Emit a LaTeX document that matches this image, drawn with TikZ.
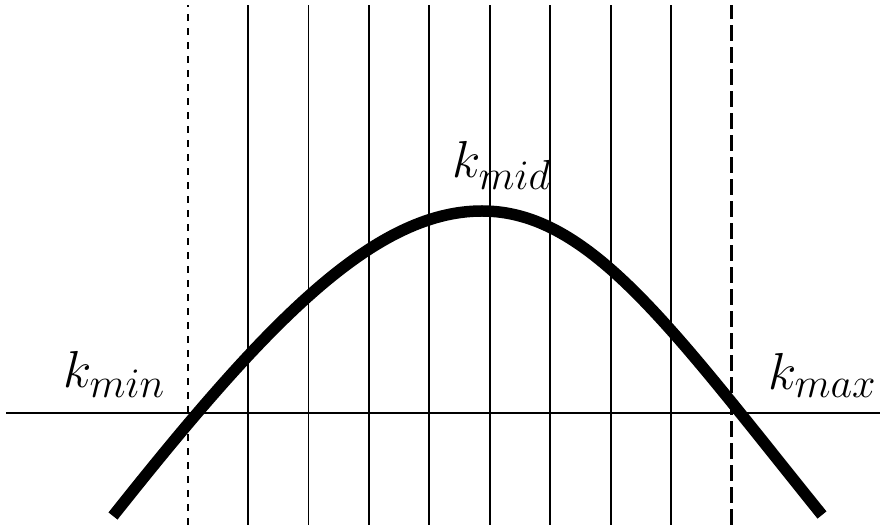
\documentclass[tikz,border=0pt]{standalone}
\usepackage{fix-cm}
\usepackage{amsmath}
\usepackage{tikz}
\usetikzlibrary{positioning}
\DeclareMathSizes{52}{52}{42}{32}
\tikzset{
  gridline/.style={line width=1.9pt, black},
  boundline/.style={line width=1.9pt, black, dash pattern=on 7pt off 7pt},
  boundlineb/.style={line width=2.1pt, black, dash pattern=on 16pt off 6pt},
  axisline/.style={line width=1.9pt, black},
  bandcurve/.style={line width=11.5pt, black},
  klabel/.style={inner sep=0pt, font=\fontsize{52}{62}\selectfont},
}

\begin{document}
\begin{tikzpicture}[x=1pt, y=1pt]
  \useasboundingbox (0,0) rectangle (880,529);

  % sampling lines
  \foreach \i in {1,...,8} {
    \draw[gridline] ({187.6+60.43*\i},4) -- ({187.6+60.43*\i},524);
  }
  % window bounds
  \draw[boundline] (187.6,4) -- (187.6,524);
  \draw[boundlineb] (731.5,4) -- (731.5,524);

  % axis
  \draw[axisline] (6,116) -- (880,116);

  % curve
  \coordinate (cl) at (113,13);
  \coordinate (ctop) at (482,318);
  \coordinate (cr) at (822,14);
  \draw[bandcurve] (cl) .. controls (263,202) and (372,318) .. (ctop)
    .. controls (590,318) and (672,200) .. (cr);

  % labels
  \node[klabel, anchor=base west] (kmin) at (63,141) {$k_{min}$};
  \node[klabel, anchor=base west] (kmid) at (452,351) {$k_{mid}$};
  \node[klabel, anchor=base west] (kmax) at (768,139) {$k_{max}$};
\end{tikzpicture}
\end{document}
